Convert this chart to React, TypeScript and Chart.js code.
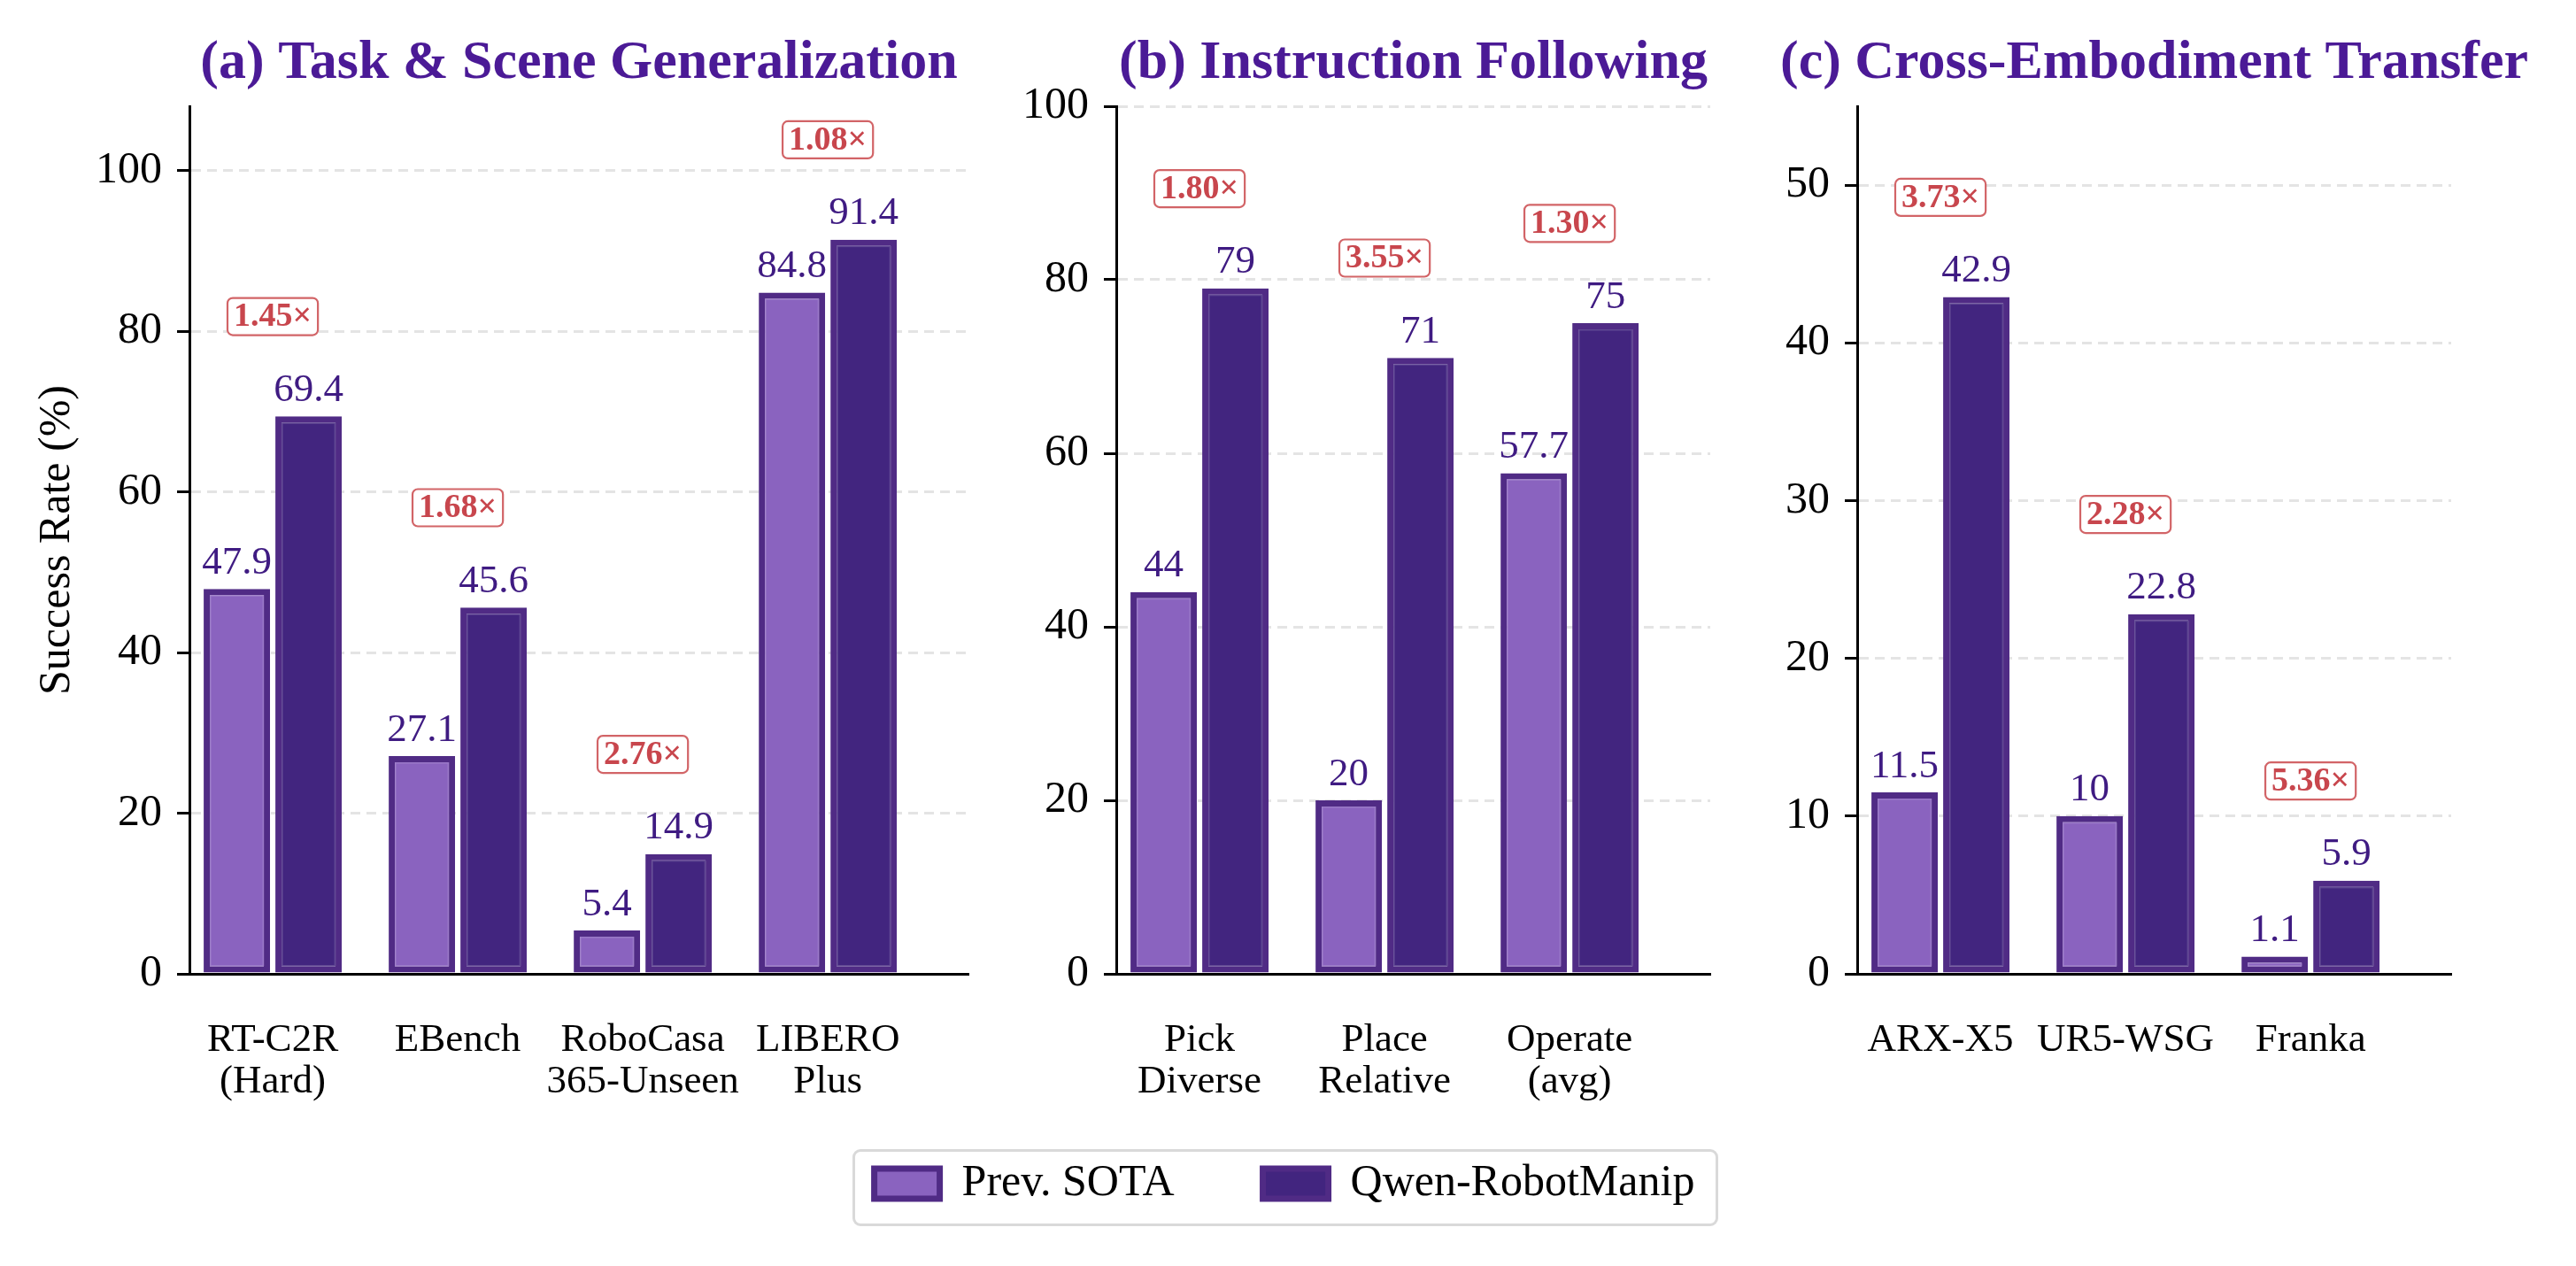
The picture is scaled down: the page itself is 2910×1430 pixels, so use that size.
import React, { useEffect, useRef } from 'react';
import { Chart, registerables } from 'chart.js';

Chart.register(...registerables);

const SERIF = "'Liberation Serif', 'Times New Roman', Times, serif";

// ---------- data ----------
const seriesNames = ['Prev. SOTA', 'Qwen-RobotManip'];

const taskCategories = [['RT-C2R', '(Hard)'], ['EBench'], ['RoboCasa', '365-Unseen'], ['LIBERO', 'Plus']];
const taskPrev = [47.9, 27.1, 5.4, 84.8];
const taskQwen = [69.4, 45.6, 14.9, 91.4];
const taskYTicks = [0, 20, 40, 60, 80, 100];

const instrCategories = [['Pick', 'Diverse'], ['Place', 'Relative'], ['Operate', '(avg)']];
const instrPrev = [44, 20, 57.7];
const instrQwen = [79, 71, 75];
const instrYTicks = [0, 20, 40, 60, 80, 100];

const embCategories = [['ARX-X5'], ['UR5-WSG'], ['Franka']];
const embPrev = [11.5, 10, 1.1];
const embQwen = [42.9, 22.8, 5.9];
const embYTicks = [0, 10, 20, 30, 40, 50];

const panelTitles = ['(a) Task & Scene Generalization', '(b) Instruction Following', '(c) Cross-Embodiment Transfer'];
const yAxisTitle = 'Success Rate (%)';
const yMaxes = [108, 100, 55];

// ---------- styles ----------
const PREV_FILL = '#8A63BF';
const QWEN_FILL = '#42257F';
const EDGE = '#502B85';
const INNER_LINES = ['rgba(255,255,255,0.14)', 'rgba(255,255,255,0.16)'];
const VALUE_COLOR = '#3F1B82';
const TITLE_COLOR = '#4B1A96';
const RATIO_TEXT = '#C8464D';
const RATIO_BORDER = '#D26467';
const GRID_COLOR = '#E4E4E4';
const BAR_BORDER = 7;

type Panel = {
  title: string;
  categories: string[][];
  prev: number[];
  qwen: number[];
  yTicks: number[];
  yMax: number;
  left: number;
  width: number;
  yAxisWidth: number;
  padRight: number;
  showYTitle: boolean;
};

const CANVAS_H = 1290;

const PANELS: Panel[] = [
  { title: panelTitles[0], categories: taskCategories, prev: taskPrev, qwen: taskQwen, yTicks: taskYTicks, yMax: yMaxes[0], left: 0, width: 1120, yAxisWidth: 214, padRight: 26, showYTitle: true },
  { title: panelTitles[1], categories: instrCategories, prev: instrPrev, qwen: instrQwen, yTicks: instrYTicks, yMax: yMaxes[1], left: 1140, width: 870, yAxisWidth: 121, padRight: 78, showYTitle: false },
  { title: panelTitles[2], categories: embCategories, prev: embPrev, qwen: embQwen, yTicks: embYTicks, yMax: yMaxes[2], left: 2010, width: 900, yAxisWidth: 88, padRight: 141, showYTitle: false },
];

function roundRectPath(ctx: CanvasRenderingContext2D, x: number, y: number, w: number, h: number, r: number) {
  ctx.beginPath();
  ctx.moveTo(x + r, y);
  ctx.arcTo(x + w, y, x + w, y + h, r);
  ctx.arcTo(x + w, y + h, x, y + h, r);
  ctx.arcTo(x, y + h, x, y, r);
  ctx.arcTo(x, y, x + w, y, r);
  ctx.closePath();
}

function annotationsPlugin(p: Panel) {
  return {
    id: 'panelAnnotations',
    afterDatasetsDraw(chart: any) {
      const { ctx, scales } = chart;
      ctx.save();
      // thin light line at the inner edge of each bar border
      [0, 1].forEach((d) => {
        const meta = chart.getDatasetMeta(d);
        ctx.strokeStyle = INNER_LINES[d];
        ctx.lineWidth = 1.5;
        meta.data.forEach((el: any) => {
          const { x, y, base, width } = el.getProps(['x', 'y', 'base', 'width'], true);
          const l = x - width / 2 + BAR_BORDER + 0.75;
          const t = Math.min(y, base) + BAR_BORDER + 0.75;
          const w = width - 2 * BAR_BORDER - 1.5;
          const h = Math.abs(base - y) - 2 * BAR_BORDER - 1.5;
          if (w > 0 && h > 0) ctx.strokeRect(l, t, w, h);
        });
      });
      // value labels
      ctx.font = `45px ${SERIF}`;
      ctx.fillStyle = VALUE_COLOR;
      ctx.textAlign = 'center';
      ctx.textBaseline = 'alphabetic';
      [p.prev, p.qwen].forEach((vals, d) => {
        const meta = chart.getDatasetMeta(d);
        meta.data.forEach((el: any, i: number) => {
          ctx.fillText(String(vals[i]), el.x, el.y - 17.5);
        });
      });
      // ratio boxes
      ctx.font = `bold 38px ${SERIF}`;
      p.prev.forEach((pv, i) => {
        const qv = p.qwen[i];
        const text = `${(qv / pv).toFixed(2)}×`;
        const cx = scales.x.getPixelForValue(i);
        const cy = scales.y.getPixelForValue(Math.max(pv, qv) + p.yMax * 0.115);
        const tw = ctx.measureText(text).width;
        const bw = tw + 14;
        const bh = 42;
        roundRectPath(ctx, cx - bw / 2, cy - bh / 2, bw, bh, 6);
        ctx.fillStyle = '#ffffff';
        ctx.fill();
        ctx.lineWidth = 2.2;
        ctx.strokeStyle = RATIO_BORDER;
        ctx.stroke();
        ctx.fillStyle = RATIO_TEXT;
        ctx.textAlign = 'center';
        ctx.textBaseline = 'middle';
        ctx.fillText(text, cx, cy + 1);
      });
      ctx.restore();
    },
    afterDraw(chart: any) {
      const { ctx, chartArea } = chart;
      ctx.save();
      ctx.font = `bold 62px ${SERIF}`;
      ctx.fillStyle = TITLE_COLOR;
      ctx.textAlign = 'center';
      ctx.textBaseline = 'alphabetic';
      ctx.fillText(p.title, (chartArea.left + chartArea.right) / 2, chartArea.top - 32);
      ctx.restore();
    },
  };
}

function buildConfig(p: Panel): any {
  const n = p.categories.length;
  const barStyle = { borderColor: EDGE, borderWidth: BAR_BORDER, borderSkipped: false, categoryPercentage: 0.775, barPercentage: 0.926 };
  return {
    type: 'bar',
    data: {
      datasets: [
        { label: seriesNames[0], data: p.prev.map((v, i) => ({ x: i, y: v })), backgroundColor: PREV_FILL, ...barStyle },
        { label: seriesNames[1], data: p.qwen.map((v, i) => ({ x: i, y: v })), backgroundColor: QWEN_FILL, ...barStyle },
      ],
    },
    options: {
      animation: false,
      responsive: false,
      layout: { padding: { top: 120, right: p.padRight, left: 0, bottom: 0 } },
      plugins: { legend: { display: false }, tooltip: { enabled: false }, title: { display: false } },
      scales: {
        x: {
          type: 'linear',
          bounds: 'data',
          offset: false,
          min: -0.45,
          max: n - 0.24,
          grid: { display: false, drawTicks: false, offset: false },
          border: { display: true, color: '#000', width: 3, z: 1 },
          afterBuildTicks: (s: any) => { s.ticks = p.categories.map((_, i) => ({ value: i })); },
          afterFit: (s: any) => { s.height = CANVAS_H - 1100; },
          ticks: {
            autoSkip: false,
            maxRotation: 0,
            minRotation: 0,
            padding: 52,
            color: '#000',
            font: { family: SERIF, size: 45, lineHeight: 1.045 },
            callback: (v: number) => p.categories[v] ?? '',
          },
        },
        y: {
          type: 'linear',
          bounds: 'data',
          min: 0,
          max: p.yMax,
          afterBuildTicks: (s: any) => { s.ticks = p.yTicks.map((v) => ({ value: v })); },
          afterFit: (s: any) => { s.width = p.yAxisWidth; },
          grid: { color: GRID_COLOR, lineWidth: 3, drawTicks: true, tickLength: 14, tickWidth: 3, tickColor: '#000' },
          border: { display: true, color: '#000', width: 3, dash: [11, 7], z: 1 },
          ticks: { padding: 17, color: '#000', font: { family: SERIF, size: 50 } },
          title: {
            display: p.showYTitle,
            text: yAxisTitle,
            color: '#000',
            font: { family: SERIF, size: 50, lineHeight: 1.2 },
            padding: { top: 35, bottom: 0 },
          },
        },
      },
    },
    plugins: [annotationsPlugin(p)],
  };
}

function legendConfig(): any {
  const style = { borderColor: EDGE, borderWidth: BAR_BORDER, borderSkipped: false };
  return {
    type: 'bar',
    data: {
      labels: [],
      datasets: [
        { label: seriesNames[0], data: [], backgroundColor: PREV_FILL, ...style },
        { label: seriesNames[1], data: [], backgroundColor: QWEN_FILL, ...style },
      ],
    },
    options: {
      animation: false,
      responsive: false,
      scales: { x: { display: false }, y: { display: false } },
      plugins: {
        tooltip: { enabled: false },
        legend: {
          display: true,
          position: 'top',
          align: 'center',
          maxHeight: 400,
          labels: { boxWidth: 74, boxHeight: 34, padding: 100, color: '#000', font: { family: SERIF, size: 50 } },
        },
      },
    },
  };
}

export default function App() {
  const r0 = useRef<HTMLCanvasElement>(null);
  const r1 = useRef<HTMLCanvasElement>(null);
  const r2 = useRef<HTMLCanvasElement>(null);
  const legendRef = useRef<HTMLCanvasElement>(null);
  const refs = [r0, r1, r2];

  useEffect(() => {
    const charts = PANELS.map((p, i) => new Chart(refs[i].current as HTMLCanvasElement, buildConfig(p)));
    const legend = new Chart(legendRef.current as HTMLCanvasElement, legendConfig());
    return () => {
      charts.forEach((c) => c.destroy());
      legend.destroy();
    };
  }, []);

  return (
    <div style={{ position: 'absolute', left: 0, top: 0, width: 2910, height: 1430, background: '#fff', overflow: 'hidden' }}>
      {PANELS.map((p, i) => (
        <canvas
          key={i}
          ref={refs[i]}
          width={p.width}
          height={CANVAS_H}
          style={{ position: 'absolute', left: p.left, top: 0, width: p.width, height: CANVAS_H }}
        />
      ))}
      <div
        style={{
          position: 'absolute', left: 963, top: 1298, width: 978, height: 87,
          border: '3px solid #D9D9D9', borderRadius: 9, boxSizing: 'border-box', background: '#fff',
        }}
      />
      <canvas
        ref={legendRef}
        width={1400}
        height={218}
        style={{ position: 'absolute', left: 751, top: 1212, width: 1400, height: 218 }}
      />
    </div>
  );
}
